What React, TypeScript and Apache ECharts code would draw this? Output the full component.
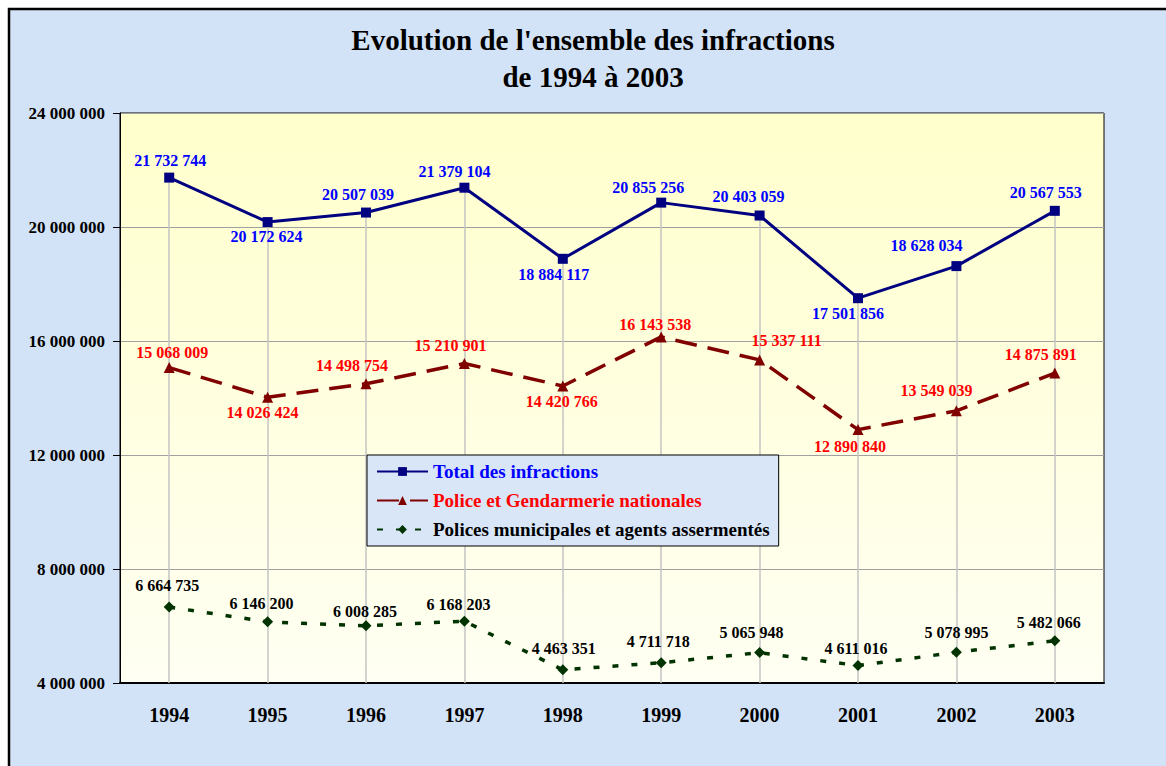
import React, { useEffect, useRef } from 'react';
import * as echarts from 'echarts';

const years = ['1994', '1995', '1996', '1997', '1998', '1999', '2000', '2001', '2002', '2003'];
const totalValues = [21732744, 20172624, 20507039, 21379104, 18884117, 20855256, 20403059, 17501856, 18628034, 20567553];
const policeValues = [15068009, 14026424, 14498754, 15210901, 14420766, 16143538, 15337111, 12890840, 13549039, 14875891];
const municipalValues = [6664735, 6146200, 6008285, 6168203, 4463351, 4711718, 5065948, 4611016, 5078995, 5482066];
const seriesNames = ['Total des infractions', 'Police et Gendarmerie nationales', 'Polices municipales et agents assermentés'];
const titleLines = ["Evolution de l'ensemble des infractions", 'de 1994 à 2003'];
const yMin = 4000000;
const yMax = 24000000;
const yInterval = 4000000;

// label placement (dx, dy from the point), kept apart from the values
const totalLabelOffsets = [[1, -17], [-1, 14], [-8, -18], [-10, -16], [-9, 16], [-13, -15], [-11, -19], [-10, 15], [-30, -21], [-9, -18]];
const policeLabelOffsets = [[3, -15], [-5, 15], [-14, -18], [-14, -18], [-1, 15], [-6, -12], [27, -19], [-8, 17], [-20, -20], [-14, -19]];
const municipalLabelOffsets = [[-2, -22], [-6, -18], [-1, -14], [-6, -17], [1, -21], [-3, -21], [-8, -20], [-2, -17], [0, -20], [-6, -18]];

const FONT = "'Liberation Serif', 'Times New Roman', serif";
const fmt = (v: number) => String(Math.round(v)).replace(/\B(?=(\d{3})+(?!\d))/g, ' ');

function withOffsets(values: number[], offsets: number[][]) {
  return values.map((v, i) => ({ value: v, label: { offset: offsets[i] } }));
}

function labelStyle(color: string) {
  return {
    show: true,
    position: 'inside',
    color,
    fontFamily: FONT,
    fontWeight: 'bold',
    fontSize: 16,
    textBorderWidth: 0,
    formatter: (p: any) => fmt(p.value),
  };
}

export default function App() {
  const ref = useRef<HTMLDivElement>(null);
  useEffect(() => {
    document.documentElement.style.overflow = 'hidden';
    const chart = echarts.init(ref.current!, null, { renderer: 'svg' });
    chart.setOption({
      animation: false,
      backgroundColor: '#ffffff',
      graphic: {
        elements: [
          {
            type: 'rect',
            z: -10,
            silent: true,
            shape: { x: 9, y: 9, width: 1200, height: 800 },
            style: { fill: '#d3e3f7', stroke: '#000', lineWidth: 2.5 },
          },
          {
            type: 'text',
            z: 10,
            x: 593,
            y: 40,
            style: { text: titleLines[0], font: `bold 29px ${FONT}`, fill: '#000', textAlign: 'center', textVerticalAlign: 'middle' },
          },
          {
            type: 'text',
            z: 10,
            x: 593,
            y: 77,
            style: { text: titleLines[1], font: `bold 29px ${FONT}`, fill: '#000', textAlign: 'center', textVerticalAlign: 'middle' },
          },
        ],
      },
      grid: {
        left: 120,
        top: 113,
        right: 62,
        bottom: 83,
        show: true,
        borderColor: '#000',
        borderWidth: 1,
        backgroundColor: new echarts.graphic.LinearGradient(0, 0, 0, 1, [
          { offset: 0, color: '#FFFFCC' },
          { offset: 1, color: '#FFFFF3' },
        ]),
      },
      legend: {
        orient: 'vertical',
        left: 367,
        top: 455,
        itemWidth: 51,
        itemHeight: 11,
        itemGap: 10,
        padding: [7, 9, 7, 9],
        backgroundColor: '#d8e6f8',
        borderColor: '#000',
        borderWidth: 1,
        selectedMode: false,
        textStyle: { fontFamily: FONT, fontWeight: 'bold', fontSize: 19 },
        data: [
          { name: seriesNames[0], textStyle: { color: '#0000FF' } },
          { name: seriesNames[1], textStyle: { color: '#FF0000' } },
          { name: seriesNames[2], textStyle: { color: '#000000' } },
        ],
      },
      xAxis: {
        type: 'category',
        data: years,
        boundaryGap: true,
        axisLine: { show: true, lineStyle: { color: '#000', width: 2 } },
        axisTick: { show: false },
        splitLine: { show: false },
        axisLabel: { fontFamily: FONT, fontWeight: 'bold', fontSize: 20, color: '#000', margin: 22 },
      },
      yAxis: {
        type: 'value',
        min: yMin,
        max: yMax,
        interval: yInterval,
        axisLine: { show: true, lineStyle: { color: '#000', width: 1 } },
        axisTick: { show: true, length: 7, lineStyle: { color: '#000', width: 1 } },
        splitLine: { show: true, lineStyle: { color: '#a0a0a0', width: 1 } },
        axisLabel: { formatter: (v: number) => fmt(v), fontFamily: FONT, fontWeight: 'bold', fontSize: 17, color: '#000', margin: 15 },
      },
      series: [
        {
          name: 'drop-lines',
          type: 'line',
          data: [],
          silent: true,
          z: 1,
          markLine: {
            z: 1,
            silent: true,
            symbol: ['none', 'none'],
            label: { show: false },
            emphasis: { disabled: true },
            lineStyle: { color: '#c4c4c4', width: 1.5, type: 'solid' },
            data: years.map((y, i) => [{ coord: [y, totalValues[i]] }, { coord: [y, yMin] }]),
          },
        },
        {
          name: seriesNames[0],
          type: 'line',
          z: 3,
          symbol: 'rect',
          symbolSize: 10,
          lineStyle: { color: '#000080', width: 3 },
          itemStyle: { color: '#000080' },
          label: labelStyle('#0000FF'),
          data: withOffsets(totalValues, totalLabelOffsets),
        },
        {
          name: seriesNames[1],
          type: 'line',
          z: 3,
          symbol: 'triangle',
          symbolSize: 11,
          lineStyle: { color: '#800000', width: 3.5, type: [22, 11] },
          itemStyle: { color: '#800000' },
          label: labelStyle('#FF0000'),
          data: withOffsets(policeValues, policeLabelOffsets),
        },
        {
          name: seriesNames[2],
          type: 'line',
          z: 3,
          symbol: 'diamond',
          symbolSize: 11,
          lineStyle: { color: '#003300', width: 3.5, type: [6, 13] },
          itemStyle: { color: '#003300' },
          label: labelStyle('#000000'),
          data: withOffsets(municipalValues, municipalLabelOffsets),
        },
      ],
    });
    return () => chart.dispose();
  }, []);
  return <div ref={ref} style={{ position: 'fixed', left: 0, top: 0, width: 1166, height: 766 }} />;
}
